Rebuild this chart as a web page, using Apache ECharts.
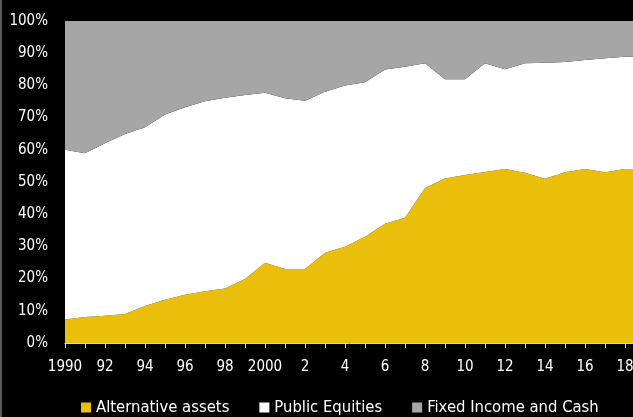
<!DOCTYPE html>
<html>
<head>
<meta charset="utf-8">
<script src="https://cdn.jsdelivr.net/npm/echarts@6/dist/echarts.min.js"></script>
<style>
html,body{margin:0;padding:0;background:#000;}
#chart{width:633px;height:417px;}
</style>
</head>
<body>
<div id="chart"></div>
<script>
const years = ['1990','1991','1992','1993','1994','1995','1996','1997','1998','1999','2000','2001','2002','2003','2004','2005','2006','2007','2008','2009','2010','2011','2012','2013','2014','2015','2016','2017','2018','2019'];
const xLabels = ['1990','','92','','94','','96','','98','','2000','','2','','4','','6','','8','','10','','12','','14','','16','','18',''];
const alternativeAssets = [7.3, 8.1, 8.5, 9.0, 11.5, 13.4, 15.0, 16.1, 16.9, 19.9, 24.9, 23.0, 23.0, 28.0, 29.9, 33.0, 37.0, 38.9, 48.1, 51.1, 52.2, 53.1, 54.0, 52.9, 51.0, 53.0, 54.0, 53.0, 54.0, 54.0];
const publicEquities = [52.7, 50.8, 53.5, 55.9, 55.5, 57.6, 58.2, 59.0, 59.3, 57.1, 52.8, 53.0, 52.2, 50.0, 50.1, 48.0, 47.9, 46.9, 38.8, 30.8, 29.7, 33.8, 31.0, 34.0, 36.0, 34.3, 33.9, 35.4, 34.9, 35.0];
const fixedIncomeCash = [40.0, 41.1, 38.0, 35.1, 33.0, 29.0, 26.8, 24.9, 23.8, 23.0, 22.3, 24.0, 24.8, 22.0, 20.0, 19.0, 15.1, 14.2, 13.1, 18.1, 18.1, 13.1, 15.0, 13.1, 13.0, 12.7, 12.1, 11.6, 11.1, 11.0];
const seriesNames = ['Alternative assets', 'Public Equities', 'Fixed Income and Cash'];
const seriesColors = ['#E9BF0B', '#FFFFFF', '#A6A6A6'];

const FONT = "'DejaVu Sans Condensed', sans-serif";
const chart = echarts.init(document.getElementById('chart'));
const dataSets = [alternativeAssets, publicEquities, fixedIncomeCash];
chart.setOption({
  backgroundColor: '#000',
  animation: false,
  grid: {left: 65, top: 21, width: 580, height: 322, outerBoundsMode: 'none', containLabel: false},
  legend: {
    data: seriesNames.map(n => ({name: n, icon: 'rect'})),
    left: 76, top: 394, itemWidth: 10, itemHeight: 10, itemGap: 30,
    textStyle: {color: '#fff', fontSize: 16.5, fontFamily: FONT}
  },
  xAxis: {
    type: 'category', data: years, boundaryGap: false,
    axisLine: {lineStyle: {color: '#d9d9d9', width: 1}},
    axisTick: {interval: 0, length: 5, lineStyle: {color: '#d9d9d9'}},
    axisLabel: {interval: 0, color: '#fff', fontSize: 15, fontFamily: FONT, margin: 17,
      formatter: (v, i) => xLabels[i]}
  },
  yAxis: {
    type: 'value', min: 0, max: 100, interval: 10,
    axisLine: {show: false}, axisTick: {show: false}, splitLine: {show: false},
    axisLabel: {color: '#fff', fontSize: 15, fontFamily: FONT, margin: 17, formatter: '{value}%'}
  },
  series: dataSets.map((d, i) => ({
    name: seriesNames[i], type: 'line', stack: 'total', data: d,
    symbol: 'none', lineStyle: {width: 0}, itemStyle: {color: seriesColors[i]},
    areaStyle: {color: seriesColors[i], opacity: 1}
  })),
  graphic: [{type: 'line', shape: {x1: 1, y1: 0, x2: 1, y2: 417}, style: {stroke: '#bbb', lineWidth: 1}}]
});
</script>
</body>
</html>
